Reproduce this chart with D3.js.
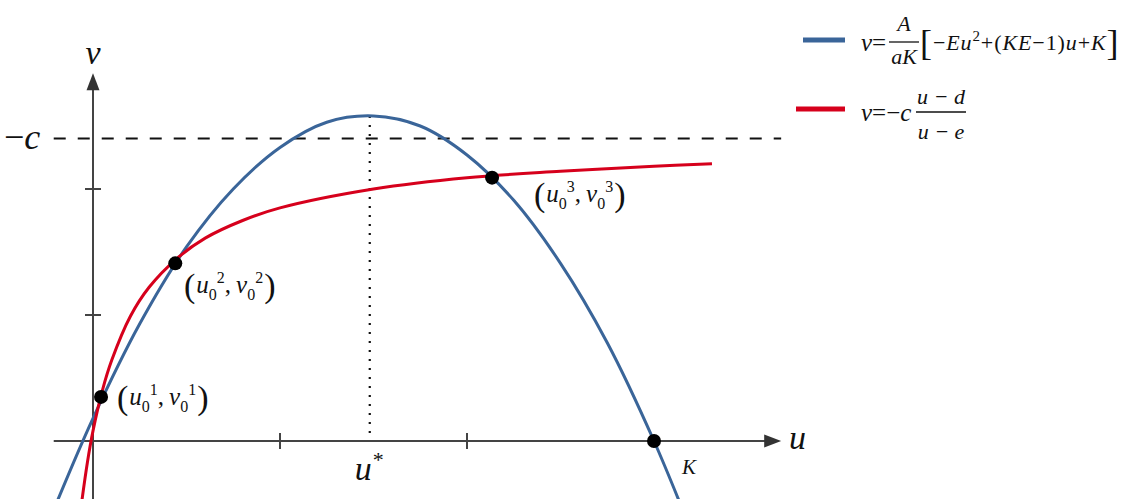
<!DOCTYPE html>
<html>
<head>
<meta charset="utf-8">
<script src="https://cdn.jsdelivr.net/npm/d3@7"></script>
<style>
  body { margin: 0; background: #fff; }
  svg { display: block; }
  .math { font-family: "Liberation Serif", "DejaVu Serif", serif; font-style: italic; fill: #111; }
  .up { font-style: normal; }
</style>
</head>
<body>
<div id="chart"></div>
<script>
// blue curve: v = A/(aK)[-Eu^2+(KE-1)u+K], samples (u, v)
var blueU = [-0.2, 0, 0.25, 0.5, 0.75, 1.0, 1.25, 1.5, 1.75, 2.0, 2.25, 2.5, 2.75, 3.0, 3.2];
var blueV = [-0.51, 0.18, 0.93, 1.54, 2.0, 2.33, 2.53, 2.58, 2.5, 2.27, 1.91, 1.41, 0.78, 0, -0.72];
// red curve: v = -c (u-d)/(u-e)
var redU = [-0.06, -0.03, 0, 0.05, 0.1, 0.2, 0.3, 0.45, 0.6, 0.8, 1.0, 1.5, 2.0, 2.5, 3.0, 3.31];
var redV = [-0.48, -0.17, 0.08, 0.4, 0.64, 0.99, 1.22, 1.45, 1.61, 1.75, 1.85, 2.0, 2.09, 2.14, 2.18, 2.2];
// marked points
var ptU = [0.043, 0.44, 2.134, 3.0];
var ptV = [0.35, 1.41, 2.09, 0];
var ptSup = ["1", "2", "3", null];
var xTicks = [1, 2];
var yTicks = [1, 2];
var cLevel = 2.4;     // -c
var uStar = 1.48;     // vertex
var vStar = 2.58;

var width = 1139, height = 499;
var blue = "#3a6599", red = "#d6001c", axisCol = "#444";

var x = d3.scaleLinear().domain([0, 1]).range([93, 280]);
var y = d3.scaleLinear().domain([0, 1]).range([441, 315]);

var svg = d3.select("#chart").append("svg").attr("width", width).attr("height", height);

// dashed -c level
svg.append("line")
  .attr("x1", x(-0.21)).attr("x2", x(3.68))
  .attr("y1", y(cLevel)).attr("y2", y(cLevel))
  .attr("stroke", "#111").attr("stroke-width", 2)
  .attr("stroke-dasharray", "12,12");

// dotted u* line
svg.append("line")
  .attr("x1", x(uStar)).attr("x2", x(uStar))
  .attr("y1", y(vStar)).attr("y2", y(0))
  .attr("stroke", "#111").attr("stroke-width", 2.2)
  .attr("stroke-dasharray", "2,7");

// axes
svg.append("line").attr("x1", x(-0.21)).attr("x2", x(3.6)).attr("y1", y(0)).attr("y2", y(0))
  .attr("stroke", axisCol).attr("stroke-width", 2);
svg.append("line").attr("x1", x(0)).attr("x2", x(0)).attr("y1", height).attr("y2", y(2.8))
  .attr("stroke", axisCol).attr("stroke-width", 2);
svg.append("path")
  .attr("d", "M" + (x(3.6) - 2) + "," + (y(0) - 6.5) + "L" + (x(3.6) + 15) + "," + y(0) + "L" + (x(3.6) - 2) + "," + (y(0) + 6.5) + "Z")
  .attr("fill", "#333");
svg.append("path")
  .attr("d", "M" + (x(0) - 6.5) + "," + (y(2.8) + 2) + "L" + x(0) + "," + (y(2.8) - 15) + "L" + (x(0) + 6.5) + "," + (y(2.8) + 2) + "Z")
  .attr("fill", "#333");

svg.selectAll(".xtick").data(xTicks).enter().append("line")
  .attr("x1", function(d) { return x(d); }).attr("x2", function(d) { return x(d); })
  .attr("y1", y(0) - 8).attr("y2", y(0) + 8)
  .attr("stroke", axisCol).attr("stroke-width", 2);
svg.selectAll(".ytick").data(yTicks).enter().append("line")
  .attr("y1", function(d) { return y(d); }).attr("y2", function(d) { return y(d); })
  .attr("x1", x(0) - 8).attr("x2", x(0) + 8)
  .attr("stroke", axisCol).attr("stroke-width", 2);

// curves
var line = d3.line()
  .x(function(d) { return x(d[0]); })
  .y(function(d) { return y(d[1]); })
  .curve(d3.curveCatmullRom);

svg.append("path").datum(d3.zip(blueU, blueV))
  .attr("d", line).attr("fill", "none").attr("stroke", blue).attr("stroke-width", 3);
svg.append("path").datum(d3.zip(redU, redV))
  .attr("d", line).attr("fill", "none").attr("stroke", red).attr("stroke-width", 3);

// points
svg.selectAll(".pt").data(d3.zip(ptU, ptV)).enter().append("circle")
  .attr("cx", function(d) { return x(d[0]); })
  .attr("cy", function(d) { return y(d[1]); })
  .attr("r", 7).attr("fill", "#000");

// point labels (u0^i, v0^i)
var labelPos = [[117, 405], [184, 293], [534, 202]];
function pointLabel(px, py, sup) {
  var t = svg.append("text").attr("class", "math").attr("x", px).attr("y", py).attr("font-size", 25);
  t.append("tspan").attr("class", "up").attr("font-size", 34).attr("font-weight", 300).attr("dy", 4).text("(");
  t.append("tspan").attr("dx", 1).attr("dy", -4).text("u");
  t.append("tspan").attr("class", "up").attr("font-size", 16).attr("dy", 7).text("0");
  t.append("tspan").attr("class", "up").attr("font-size", 16).attr("dy", -17).text(sup);
  t.append("tspan").attr("class", "up").attr("dy", 10).text(",\u2009");
  t.append("tspan").text("v");
  t.append("tspan").attr("class", "up").attr("font-size", 16).attr("dy", 7).text("0");
  t.append("tspan").attr("class", "up").attr("font-size", 16).attr("dy", -17).text(sup);
  t.append("tspan").attr("class", "up").attr("font-size", 34).attr("font-weight", 300).attr("dx", 1).attr("dy", 14).text(")");
}
ptSup.forEach(function(s, i) {
  if (s) pointLabel(labelPos[i][0], labelPos[i][1], s);
});

// axis labels
svg.append("text").attr("class", "math").attr("x", x(0)).attr("y", 64)
  .attr("text-anchor", "middle").attr("font-size", 34).text("v");
svg.append("text").attr("class", "math").attr("x", 789).attr("y", 449)
  .attr("font-size", 34).text("u");
var us = svg.append("text").attr("class", "math").attr("x", x(uStar) - 15).attr("y", 480).attr("font-size", 34);
us.append("tspan").text("u");
us.append("tspan").attr("class", "up").attr("font-size", 22).attr("dx", 1).attr("dy", -13).text("*");
svg.append("text").attr("class", "math").attr("x", 682).attr("y", 474).attr("font-size", 21).text("K");
var cl = svg.append("text").attr("class", "math").attr("x", 4).attr("y", y(cLevel) + 10).attr("font-size", 36);
cl.append("tspan").attr("class", "up").text("\u2212");
cl.append("tspan").text("c");

// legend
var lg = svg.append("g").attr("class", "legend");
lg.append("line").attr("x1", 803).attr("x2", 845).attr("y1", 40).attr("y2", 40)
  .attr("stroke", blue).attr("stroke-width", 5);
lg.append("line").attr("x1", 796).attr("x2", 845).attr("y1", 109).attr("y2", 109)
  .attr("stroke", red).attr("stroke-width", 5);

var fs = 22;
lg.append("text").attr("class", "math").attr("x", 861).attr("y", 51).attr("font-size", 25)
  .text("v").append("tspan").attr("class", "up").text("=");
lg.append("text").attr("class", "math").attr("x", 904).attr("y", 31).attr("text-anchor", "middle").attr("font-size", fs).text("A");
lg.append("line").attr("x1", 889).attr("x2", 919).attr("y1", 42).attr("y2", 42).attr("stroke", "#111").attr("stroke-width", 1.3);
lg.append("text").attr("class", "math").attr("x", 904).attr("y", 64).attr("text-anchor", "middle").attr("font-size", fs).text("aK");
var bf = lg.append("text").attr("class", "math").attr("x", 920).attr("y", 50).attr("font-size", fs)
  .attr("letter-spacing", 0.9);
bf.append("tspan").attr("class", "up").attr("font-size", 36).attr("font-weight", 300).attr("dy", 5).text("[");
bf.append("tspan").attr("class", "up").attr("dy", -5).text("\u2212");
bf.append("tspan").text("Eu");
bf.append("tspan").attr("class", "up").attr("font-size", 15).attr("dy", -9).text("2");
bf.append("tspan").attr("class", "up").attr("dy", 9).text("+(");
bf.append("tspan").text("KE");
bf.append("tspan").attr("class", "up").text("\u22121)");
bf.append("tspan").text("u");
bf.append("tspan").attr("class", "up").text("+");
bf.append("tspan").text("K");
bf.append("tspan").attr("class", "up").attr("font-size", 36).attr("font-weight", 300).attr("dy", 5).text("]");

var rf = lg.append("text").attr("class", "math").attr("x", 861).attr("y", 121).attr("font-size", 25);
rf.append("tspan").text("v");
rf.append("tspan").attr("class", "up").text("=\u2212");
rf.append("tspan").text("c");
lg.append("text").attr("class", "math").attr("x", 941).attr("y", 104).attr("text-anchor", "middle").attr("font-size", fs)
  .text("u \u2212 d");
lg.append("line").attr("x1", 916).attr("x2", 966).attr("y1", 112).attr("y2", 112).attr("stroke", "#111").attr("stroke-width", 1.3);
lg.append("text").attr("class", "math").attr("x", 941).attr("y", 139).attr("text-anchor", "middle").attr("font-size", fs)
  .text("u \u2212 e");
</script>
</body>
</html>
